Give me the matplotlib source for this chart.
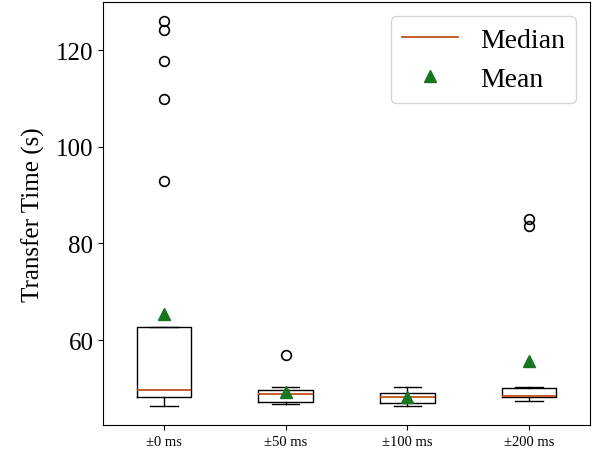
import matplotlib
matplotlib.use("Agg")
import matplotlib.pyplot as plt
from matplotlib.lines import Line2D

plt.rcParams['font.family'] = ['Liberation Serif', 'DejaVu Serif']

labels = ["±0 ms", "±50 ms", "±100 ms", "±200 ms"]
whislo = [46.4, 46.8, 46.4, 47.3]
q1 = [48.3, 47.2, 47.0, 48.3]
med = [49.7, 48.9, 48.3, 48.5]
q3 = [62.6, 49.6, 49.0, 50.0]
whishi = [62.7, 50.3, 50.3, 50.2]
means = [65.4, 49.2, 48.1, 55.6]
fliers = [[126.0, 124.2, 117.8, 109.9, 93.0], [56.8], [], [85.0, 83.6]]

stats = []
for i in range(len(labels)):
    stats.append(dict(label=labels[i], whislo=whislo[i], q1=q1[i], med=med[i],
                      q3=q3[i], whishi=whishi[i], mean=means[i], fliers=fliers[i]))

fig, ax = plt.subplots(figsize=(6, 4.56), dpi=100)
fig.subplots_adjust(left=0.172, right=0.983, bottom=0.066, top=0.993)

median_color = '#c0501a'
mean_color = '#17761f'
ax.bxp(stats, showmeans=True,
       medianprops=dict(color=median_color, linewidth=1.3),
       meanprops=dict(marker='^', markerfacecolor=mean_color, markeredgecolor=mean_color, markersize=8),
       flierprops=dict(marker='o', markerfacecolor='none', markeredgecolor='black', markersize=7, markeredgewidth=1.2))

ax.set_ylabel("Transfer Time (s)", fontsize=18, labelpad=8)
ax.set_yticks([60, 80, 100, 120])
ax.tick_params(axis='y', labelsize=18)
ax.tick_params(axis='x', labelsize=10.5)

handles = [Line2D([0], [0], color=median_color, linewidth=1.3),
           Line2D([0], [0], marker='^', linestyle='none', color=mean_color, markersize=8)]
ax.legend(handles, ["Median", "Mean"], loc='upper right', fontsize=20)

fig.savefig("out.png", dpi=100)
